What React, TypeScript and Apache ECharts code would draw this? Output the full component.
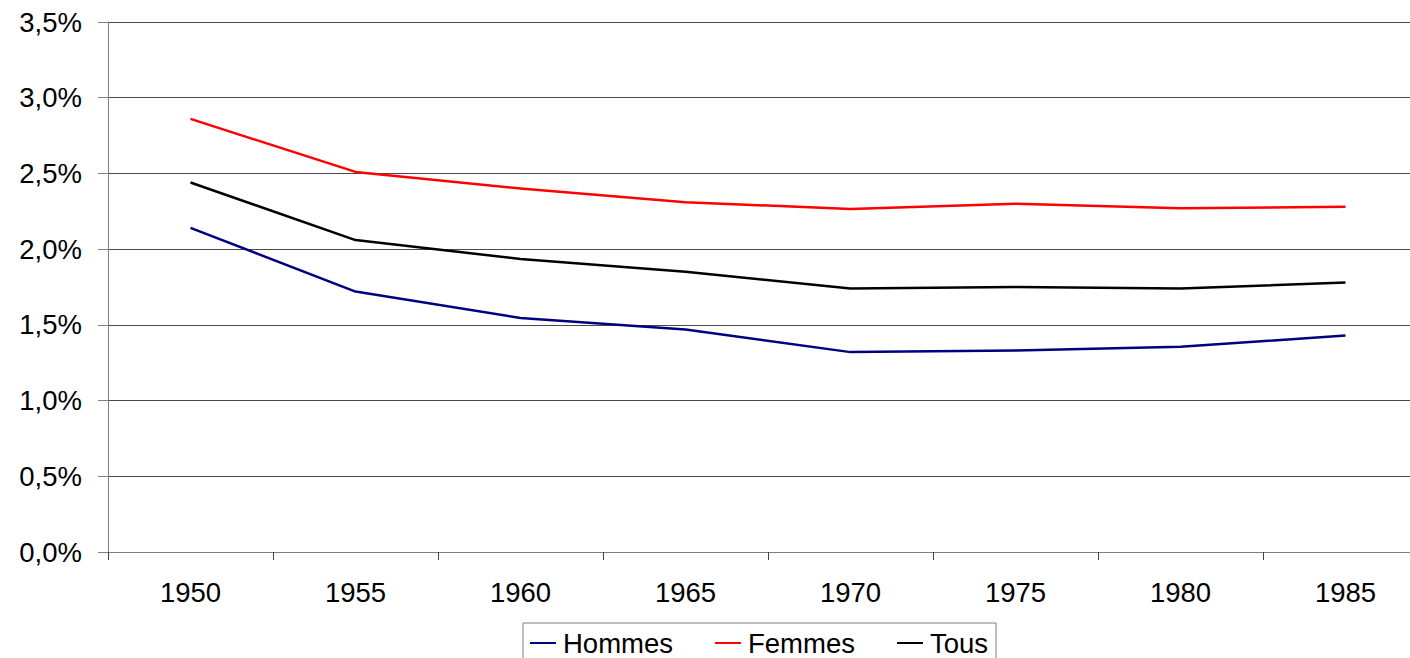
import React, { useEffect, useRef } from "react";
import * as echarts from "echarts";

const years = ["1950", "1955", "1960", "1965", "1970", "1975", "1980", "1985"];
const hommes = [2.14, 1.72, 1.545, 1.47, 1.32, 1.33, 1.355, 1.43];
const femmes = [2.86, 2.51, 2.4, 2.31, 2.265, 2.3, 2.27, 2.28];
const tous = [2.44, 2.06, 1.935, 1.85, 1.74, 1.75, 1.74, 1.78];
const seriesNames = ["Hommes", "Femmes", "Tous"];
const seriesColors = ["#000080", "#FF0000", "#000000"];

export default function App() {
  const ref = useRef<HTMLDivElement>(null);
  useEffect(() => {
    document.body.style.margin = "0";
    const chart = echarts.init(ref.current!, null, { renderer: "svg" });
    const font = "'Liberation Sans', Arial, sans-serif";
    const data = [hommes, femmes, tous];
    chart.setOption({
      animation: false,
      textStyle: { fontFamily: font },
      grid: { left: 108, top: 22, width: 1320, height: 530, outerBoundsMode: "none", containLabel: false },
      legend: {
        left: 523,
        top: 623,
        data: seriesNames,
        icon: "rect",
        itemWidth: 26,
        itemHeight: 2,
        itemGap: 42,
        padding: [6, 8, 6, 7],
        borderColor: "#808080",
        borderWidth: 1,
        borderRadius: 0,
        textStyle: {
          fontSize: 27.5,
          lineHeight: 28,
          color: "#000",
          fontFamily: font,
          padding: [0, 0, 0, 2],
        },
      },
      xAxis: {
        type: "category",
        data: years,
        boundaryGap: true,
        axisLine: { lineStyle: { color: "#808080", width: 1 } },
        axisTick: { show: true, length: 8, lineStyle: { color: "#404040" } },
        axisLabel: { fontSize: 27.5, color: "#000", margin: 26, fontFamily: font },
        splitLine: { show: false },
      },
      yAxis: {
        type: "value",
        min: 0,
        max: 3.5,
        interval: 0.5,
        axisLine: { show: true, lineStyle: { color: "#808080", width: 1 } },
        axisTick: { show: true, length: 10, lineStyle: { color: "#808080" } },
        axisLabel: {
          fontSize: 27.5,
          color: "#000",
          margin: 26,
          fontFamily: font,
          formatter: (v: number) => v.toFixed(1).replace(".", ",") + "%",
        },
        splitLine: { show: true, lineStyle: { color: "#4a4a4a", width: 1 } },
      },
      series: seriesNames.map((name, i) => ({
        name,
        type: "line",
        data: data[i],
        showSymbol: false,
        symbol: "none",
        color: seriesColors[i],
        lineStyle: { color: seriesColors[i], width: 2.5, join: "round" },
      })),
    });
    return () => chart.dispose();
  }, []);
  return <div ref={ref} style={{ width: 1410, height: 658 }} />;
}
